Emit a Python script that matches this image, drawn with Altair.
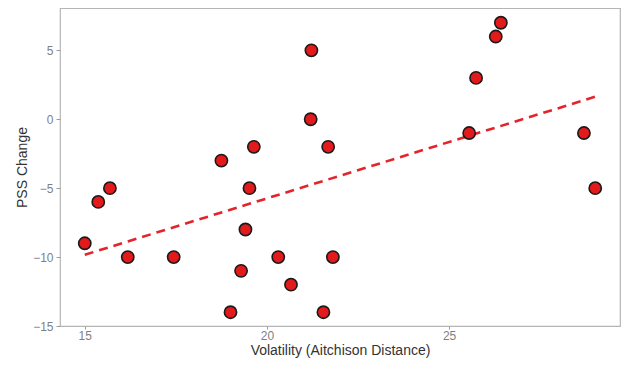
import altair as alt
import pandas as pd

volatility = [15.0, 15.37, 15.69, 16.18, 17.44, 18.75, 19.0, 19.29, 19.41, 19.52,
              19.64, 20.31, 20.66, 21.20, 21.22, 21.68, 21.81, 21.55, 25.55, 25.74,
              26.28, 26.42, 28.70, 29.01]
pss_change = [-9, -6, -5, -10, -10, -3, -14, -11, -8, -5,
              -2, -10, -12, 0, 5, -2, -10, -14, -1, 3,
              6, 7, -1, -5]
x_ticks = [15, 20, 25]
y_ticks = [-15, -10, -5, 0, 5]

df = pd.DataFrame({"vol": volatility, "pss": pss_change})

xscale = alt.Scale(domain=[14.32, 29.69], nice=False, zero=False)
yscale = alt.Scale(domain=[-15, 8.07], nice=False, zero=False)

axis_common = dict(grid=False, domain=False, tickColor="#9a9a9a",
                   labelColor="#7f7f7f", labelFontSize=12, labelFont="Liberation Sans",
                   titleColor="#333333", titleFontSize=14, titleFont="Liberation Sans",
                   titleFontWeight="normal")

x_enc = alt.X("vol:Q", scale=xscale,
              axis=alt.Axis(values=x_ticks, title="Volatility (Aitchison Distance)",
                            tickSize=3, labelPadding=1, titlePadding=2, **axis_common))
y_enc = alt.Y("pss:Q", scale=yscale,
              axis=alt.Axis(values=y_ticks, title="PSS Change", titlePadding=3,
                            tickSize=4, labelPadding=3, **axis_common))

line = alt.Chart(df).transform_regression("vol", "pss").mark_line(
    color="#e3242b", strokeWidth=2.6, strokeDash=[9, 6]
).encode(x=x_enc, y=y_enc)

points = alt.Chart(df).mark_point(
    shape="circle", filled=True, fill="#e31a1c", stroke="#1a1a1a",
    strokeWidth=1.6, size=150, opacity=1
).encode(x=x_enc, y=y_enc)

chart = alt.layer(line, points).properties(
    width=560, height=318,
    autosize=alt.AutoSizeParams(type="none"),
    padding={"left": 52, "top": 0, "right": 1, "bottom": 33},
    background="white",
).configure_view(stroke="#b5b5b5", strokeWidth=1.2)

chart.save("out.html", embed_options={"renderer": "svg", "actions": False})
